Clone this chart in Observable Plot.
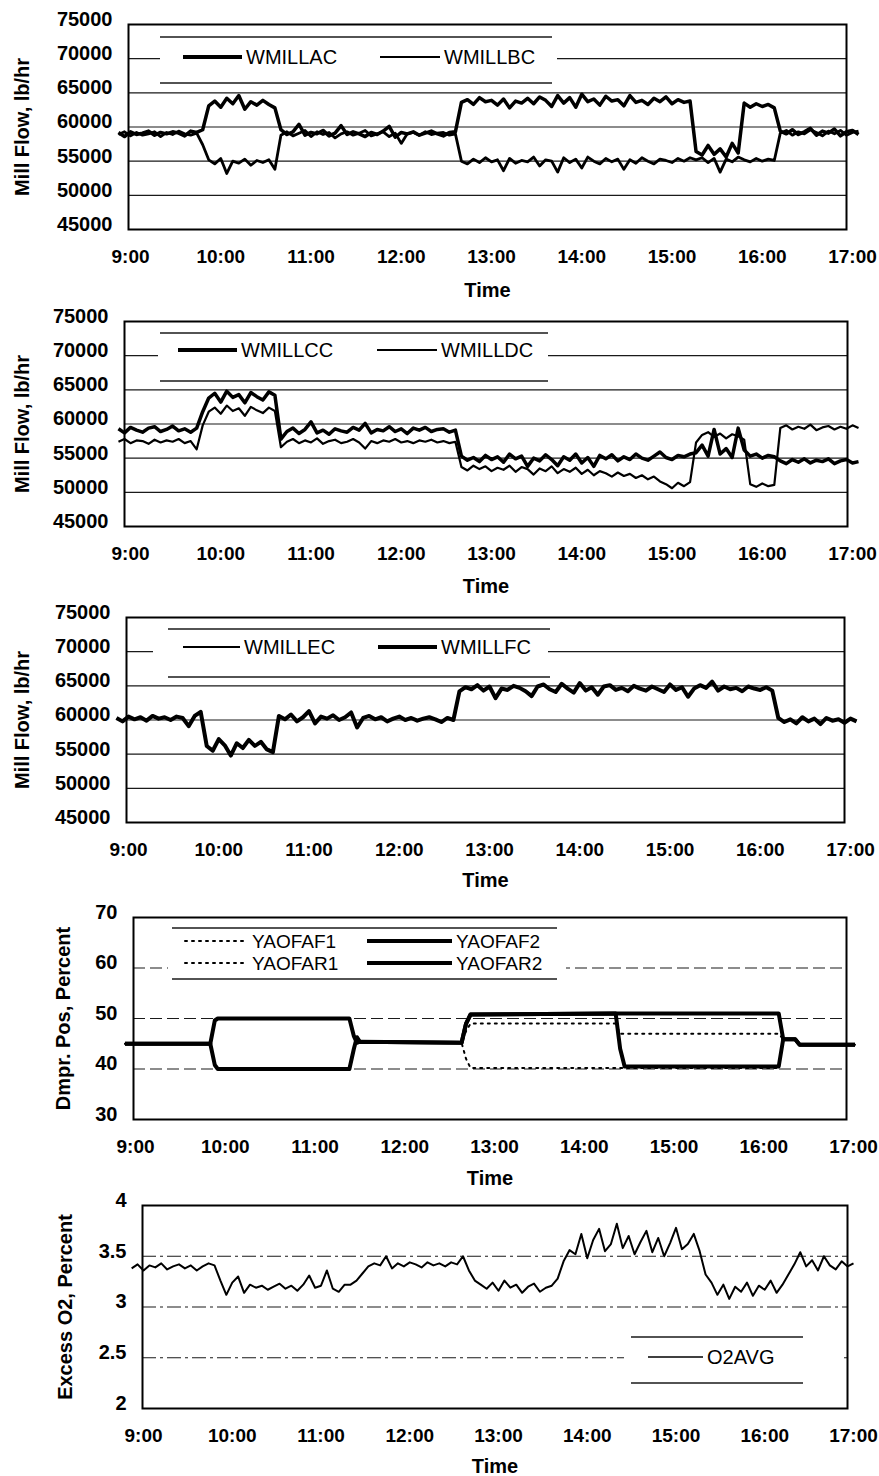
<!DOCTYPE html>
<html><head><meta charset="utf-8">
<script src="https://cdn.jsdelivr.net/npm/d3@7"></script>
<script src="https://cdn.jsdelivr.net/npm/@observablehq/plot@0.6"></script>
<style>
html,body{margin:0;padding:0;background:#fff;}
#page{position:relative;width:879px;height:1476px;overflow:hidden;font-family:"Liberation Sans",Arial,sans-serif;}
#page svg{position:absolute;left:0;}
</style></head><body><div id="page"></div>
<script>
// ---------- data ----------
const sampleStart = "8:52";      // logged samples, every 4 minutes
const sampleStepMin = 4;
const hourTicks = [9, 10, 11, 12, 13, 14, 15, 16, 17];
const millTicks = [45000, 50000, 55000, 60000, 65000, 70000, 75000];
const damperTicks = [30, 40, 50, 60, 70];
const o2Ticks = [2, 2.5, 3, 3.5, 4];

const wmillAC = [
59200,58600,59300,58900,59100,59400,58800,59200,59000,59300,59100,58700,59400,59200,59600,
63100,63800,62900,64200,63400,64600,62600,63700,63200,63900,63300,62800,
59600,58900,59300,60400,58800,59200,59000,59500,58700,59100,60200,58900,59300,59000,58600,59200,58900,59400,60100,58500,59200,59000,59300,58800,59100,59400,59000,58700,59200,59300,
63600,64000,63300,64300,63700,63900,63200,64100,62800,63800,63500,64200,63400,64400,63900,63000,64600,63500,64300,62900,64800,63700,64100,63200,64500,63800,64000,63100,64600,63600,63900,63300,64200,63700,64400,63400,64000,63600,63800,
56400,55900,57300,56000,56800,55600,57600,56200,
63500,62900,63400,63000,63300,62800,
59400,59000,59600,58900,59300,59800,58800,59400,59100,59700,58700,59300,59500,58900];
const wmillBC = [
58900,59300,58700,59200,58800,59000,59300,58600,59200,58900,59400,59000,58800,59100,57400,
55200,54600,55400,53200,55000,54700,55300,54400,55100,54800,55200,53800,
58800,59300,58700,59100,59500,58600,59300,58900,59200,58400,59000,59300,58800,59100,59500,58700,59000,59300,58600,59100,57600,59000,59200,58800,59300,58900,59100,59200,58800,59000,
55000,54600,55300,54800,55500,54900,55200,53600,55400,54700,55100,54900,55600,54300,55200,55000,53400,55500,54800,55300,54000,55600,55000,54600,55400,54900,55300,53800,55200,54700,55500,55000,54600,55300,55100,54800,55400,55000,55500,
55200,55500,54800,55400,53400,55300,54900,55600,
55200,54900,55400,55000,55300,55100,
59100,59500,58800,59300,59000,59600,59200,58700,59400,59000,59500,58800,59200,59400];
const wmillCC = [
59300,58700,59500,59100,58800,59400,59600,58900,59200,59700,59000,59300,58800,59400,61800,
63800,64500,63200,64800,63900,64300,63100,64600,64000,63500,64700,64200,
57800,58900,59400,58600,59200,60300,58700,59100,58500,59300,59000,58800,59500,59100,60100,58700,59200,59000,59600,58900,59300,58600,59400,59100,59500,58900,59200,59300,58800,59100,
55300,54700,55100,54500,55400,54800,55200,54400,55600,54900,55300,53800,55000,54600,55500,54800,53900,55200,54700,55600,54300,55100,53800,55400,54900,55500,54600,55200,54800,55600,55000,54700,55300,55900,55100,54800,55400,55200,55600,
55800,56900,55300,59200,55600,56400,55100,59400,56200,
55300,55600,55000,55400,55200,
54600,54200,54800,54400,54900,54300,54700,54500,54900,54200,54600,54800,54300,54500];
const wmillDC = [
57400,57800,57200,57600,57500,57100,57700,57300,57600,57400,57800,57200,57500,56300,59800,
61800,62400,61500,62700,61900,62300,61200,62500,62000,61600,62400,61900,
56600,57400,57800,57200,57600,57300,57900,57100,57500,57700,57200,57400,57800,57300,56400,57500,57200,57600,57400,57800,57300,57500,57200,57600,57400,57700,57300,57500,57200,57400,
53700,53200,53900,53400,53800,53100,53600,53300,53900,53000,53700,53400,52600,53500,53100,53800,52800,53400,53000,53600,52700,53300,52500,53100,52800,52300,52900,52400,52700,52100,52500,51900,52300,51600,51200,50600,51400,50900,51500,
57300,58400,58800,58100,58600,57900,58500,58200,57700,
51200,50800,51300,50900,51100,
59400,59800,59200,59600,59300,59900,59100,59500,59700,59200,59600,59300,59800,59400];
const wmillEC = [
60200,59900,60400,60200,60300,60000,60500,60100,60300,60100,60400,60200,59300,60500,61000,
56300,55700,57000,56200,55100,56500,56000,56900,56300,56700,55800,55500,
60500,60200,60700,59900,60300,61100,59700,60400,60300,60600,60100,60300,60900,59200,60200,60500,60200,60300,59900,60100,60400,60100,60200,60000,60100,60300,60200,59800,60200,60100,
64100,64700,64600,64900,64400,64800,63500,64500,64500,64900,64600,64300,63700,64800,65000,64600,64200,65100,64500,64100,65200,64400,64700,63900,64800,65000,64500,64600,64300,64900,64500,64400,64800,64600,64200,65000,64500,64700,63600,64500,65000,64600,65300,64400,64800,64600,64600,64300,64800,64500,64500,64700,64400,
60200,59800,60000,59600,60300,59900,60100,59500,60200,60000,60000,59700,60100,59900];
const wmillFC = [
60300,59800,60500,60100,60400,59900,60600,60200,60400,60000,60500,60300,59100,60600,61200,
56200,55500,57200,56300,54800,56600,55900,57100,56200,56800,55700,55300,
60600,60100,60800,59800,60400,61300,59500,60500,60200,60700,60000,60400,61100,58900,60300,60600,60100,60400,59800,60200,60500,60000,60300,59900,60200,60400,60100,59700,60300,60000,
64200,64800,64500,65100,64300,64900,63200,64600,64400,65000,64700,64200,63500,64900,65200,64500,64100,65300,64600,64000,65400,64300,64800,63700,64900,65100,64400,64700,64200,65000,64600,64300,64900,64500,64100,65200,64400,64800,63400,64600,65100,64700,65600,64300,64900,64500,64700,64200,64900,64600,64400,64800,64300,
60300,59700,60100,59500,60400,59800,60200,59400,60300,59900,60100,59600,60200,59800];

const damperTimes = ["8:53","9:50","9:53","9:55","11:23","11:26","11:28","11:30","12:38","12:41","12:44","14:21","14:24","14:27","16:10","16:13","16:21","16:24","17:01"];
const yaofaf1 = [45,45,49.6,50,50,46.5,45.2,45.4,45.2,47.5,49,49,47,47,47,45.9,45.9,44.8,44.8];
const yaofar1 = [45,45,40.8,40,40,44,46.3,45.4,45.2,42,40.2,40.2,40.2,40.2,40.2,45.9,45.9,44.8,44.8];
const yaofaf2 = [45,45,49.6,50,50,46.5,45.2,45.4,45.2,49,50.8,51,51,51,51,45.9,45.9,44.8,44.8];
const yaofar2 = [45,45,40.8,40,40,44,46.3,45.4,45.2,49,50.8,51,44,40.5,40.5,45.9,45.9,44.8,44.8];

const o2avg = [
3.38,3.42,3.36,3.41,3.39,3.43,3.37,3.40,3.42,3.38,3.41,3.36,3.40,3.43,3.41,
3.26,3.12,3.24,3.30,3.14,3.22,3.19,3.21,3.17,3.20,3.23,3.18,3.21,3.16,3.22,3.31,3.19,3.21,3.36,3.18,3.15,3.22,3.22,
3.26,3.33,3.40,3.43,
3.41,3.50,3.38,3.43,3.40,3.44,3.42,3.39,3.44,3.41,3.43,3.40,3.44,3.42,3.50,
3.36,3.26,
3.22,3.18,3.24,3.16,3.26,3.19,3.22,3.14,3.20,3.23,3.15,3.19,3.21,3.28,
3.45,3.56,
3.52,3.72,3.48,3.66,3.77,3.55,3.62,3.82,3.58,3.70,3.52,3.64,3.75,3.54,3.68,3.50,3.63,3.78,3.57,3.62,3.72,
3.55,3.32,
3.24,3.12,3.22,3.08,3.20,3.15,3.24,3.11,3.21,3.17,3.26,3.14,3.22,
3.32,3.42,
3.54,3.40,3.46,3.36,3.50,3.41,3.37,3.45,3.40,3.43];

// ---------- helpers ----------
function hourOf(s) { const [h, m] = s.split(":").map(Number); return h + m / 60; }
function sampled(values) { const t0 = hourOf(sampleStart); return values.map((v, i) => ({t: t0 + i * sampleStepMin / 60, v})); }
function timed(times, values) { return values.map((v, i) => ({t: hourOf(times[i]), v})); }

const FONT = '"Liberation Sans", Arial, sans-serif';

const panels = [
  {top: 0, bottom: 297, frame: [128, 846, 24, 229], x9: 130, x17: 852, yDomain: [45000, 75000], yTicks: millTicks,
   yTitle: "Mill Flow, lb/hr", yTitleX: 22, timeDy: 61,
   series: [{name: "WMILLAC", data: sampled(wmillAC), sw: 3.5}, {name: "WMILLBC", data: sampled(wmillBC), sw: 2.8}]},
  {top: 297, bottom: 593, frame: [124, 847, 321, 526], x9: 130, x17: 852, yDomain: [45000, 75000], yTicks: millTicks,
   yTitle: "Mill Flow, lb/hr", yTitleX: 22, timeDy: 60,
   series: [{name: "WMILLDC", data: sampled(wmillDC), sw: 2.2}, {name: "WMILLCC", data: sampled(wmillCC), sw: 3.5}]},
  {top: 593, bottom: 893, frame: [126, 844, 617, 822], x9: 128, x17: 850, yDomain: [45000, 75000], yTicks: millTicks,
   yTitle: "Mill Flow, lb/hr", yTitleX: 22, timeDy: 58,
   series: [{name: "WMILLFC", data: sampled(wmillFC), sw: 4}, {name: "WMILLEC", data: sampled(wmillEC), sw: 1.5}]},
  {top: 893, bottom: 1181, frame: [133, 846, 917, 1119], x9: 135, x17: 853, yDomain: [30, 70], yTicks: damperTicks,
   yTitle: "Dmpr. Pos, Percent", yTitleX: 63, timeDy: 59, gridDash: "12,5",
   series: [{name: "YAOFAF1", data: timed(damperTimes, yaofaf1), sw: 2, dash: "2,5"},
            {name: "YAOFAR1", data: timed(damperTimes, yaofar1), sw: 2, dash: "2,5"},
            {name: "YAOFAF2", data: timed(damperTimes, yaofaf2), sw: 4},
            {name: "YAOFAR2", data: timed(damperTimes, yaofar2), sw: 4}]},
  {top: 1181, bottom: 1476, frame: [142, 847, 1205, 1408], x9: 143, x17: 853, yDomain: [2, 4], yTicks: o2Ticks,
   yTitle: "Excess O2, Percent", yTitleX: 65, timeDy: 58, gridDash: "14,4,3,4",
   series: [{name: "O2AVG", data: sampled(o2avg), sw: 2}]}
];

const page = document.getElementById("page");
for (const p of panels) {
  const [fl, fr, ft, fb] = p.frame;
  const h = p.bottom - p.top;
  const pph = (p.x17 - p.x9) / 8;
  const xDom = [9 + (fl - p.x9) / pph, 9 + (fr - p.x9) / pph];
  const marks = [
    Plot.ruleY(p.yTicks.slice(1, -1), {y: d => d, stroke: "#1a1a1a", strokeWidth: 1.2, strokeDasharray: p.gridDash}),
    ...p.series.map(s => Plot.line(s.data, {x: "t", y: "v", stroke: "black", strokeWidth: s.sw,
      strokeDasharray: s.dash, strokeLinejoin: "round", strokeLinecap: s.dash ? "round" : "butt"})),
    Plot.frame({stroke: "black", strokeWidth: 2}),
    Plot.text(p.yTicks, {y: d => d, text: d => String(d), frameAnchor: "left", textAnchor: "end", lineAnchor: "middle",
      dx: -16, dy: -5, fontWeight: "bold", fontSize: 20}),
    Plot.text(hourTicks, {x: d => d, text: d => d + ":00", frameAnchor: "bottom", lineAnchor: "middle",
      dy: 27, fontWeight: "bold", fontSize: 19}),
    Plot.text(["Time"], {frameAnchor: "bottom", lineAnchor: "middle", dy: p.timeDy, fontWeight: "bold", fontSize: 20}),
    Plot.text([p.yTitle], {frameAnchor: "left", rotate: -90, textAnchor: "middle", lineAnchor: "middle",
      dx: p.yTitleX - fl, fontWeight: "bold", fontSize: 20})
  ];
  const svg = Plot.plot({
    width: 879, height: h,
    marginLeft: fl, marginRight: 879 - fr, marginTop: ft - p.top, marginBottom: p.bottom - fb,
    x: {domain: xDom, axis: null}, y: {domain: p.yDomain, axis: null},
    style: {fontFamily: FONT, background: "transparent", overflow: "visible", color: "black"},
    marks
  });
  svg.style.top = p.top + "px";
  page.appendChild(svg);
}

// ---------- legends (overlay) ----------
const legends = [
  {box: [160, 557, 37, 83], border: [160, 552], fs: 20, items: [
    {name: "WMILLAC", x0: 183, x1: 242, y: 57, sw: 4}, {name: "WMILLBC", x0: 380, x1: 440, y: 57, sw: 2}]},
  {box: [158, 548, 333, 381], border: [160, 548], fs: 20, items: [
    {name: "WMILLCC", x0: 178, x1: 237, y: 350, sw: 4}, {name: "WMILLDC", x0: 377, x1: 437, y: 350, sw: 2.2}]},
  {box: [153, 548, 629, 677], border: [168, 550], fs: 20, items: [
    {name: "WMILLEC", x0: 183, x1: 240, y: 647, sw: 2}, {name: "WMILLFC", x0: 378, x1: 437, y: 647, sw: 4}]},
  {box: [168, 566, 928, 979], border: [172, 557], fs: 19, items: [
    {name: "YAOFAF1", x0: 185, x1: 248, y: 941, sw: 2, dash: "2,5"}, {name: "YAOFAF2", x0: 367, x1: 452, y: 941, sw: 4},
    {name: "YAOFAR1", x0: 185, x1: 248, y: 963, sw: 2, dash: "2,5"}, {name: "YAOFAR2", x0: 367, x1: 452, y: 963, sw: 4}]},
  {box: [624, 844, 1337, 1383], border: [631, 803], fs: 20, items: [
    {name: "O2AVG", x0: 648, x1: 703, y: 1357, sw: 1.6}]}
];
const ov = d3.select(page).append("svg").attr("width", 879).attr("height", 1476).style("top", "0px");
for (const L of legends) {
  ov.append("rect").attr("x", L.box[0]).attr("y", L.box[2]).attr("width", L.box[1] - L.box[0])
    .attr("height", L.box[3] - L.box[2]).attr("fill", "white");
  for (const y of [L.box[2], L.box[3]]) {
    ov.append("line").attr("x1", L.border[0]).attr("x2", L.border[1]).attr("y1", y).attr("y2", y)
      .attr("stroke", "#1a1a1a").attr("stroke-width", 1.3);
  }
  for (const it of L.items) {
    ov.append("line").attr("x1", it.x0).attr("x2", it.x1).attr("y1", it.y).attr("y2", it.y)
      .attr("stroke", "black").attr("stroke-width", it.sw)
      .attr("stroke-dasharray", it.dash || null).attr("stroke-linecap", it.dash ? "round" : "butt");
    ov.append("text").attr("x", it.x1 + 4).attr("y", it.y).attr("dominant-baseline", "central")
      .attr("font-family", FONT).attr("font-size", L.fs).attr("fill", "black").text(it.name);
  }
}
</script>
</body></html>
